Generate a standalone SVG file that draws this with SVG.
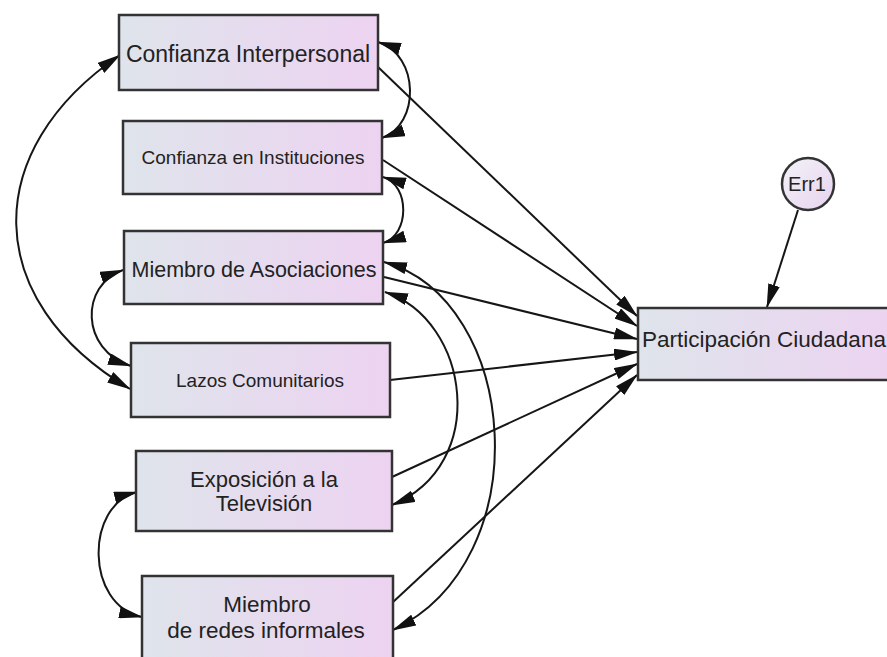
<svg xmlns="http://www.w3.org/2000/svg" width="887" height="657" viewBox="0 0 887 657">
<defs>
<linearGradient id="boxfill" x1="0" y1="0" x2="1" y2="0">
<stop offset="0" stop-color="#dfe4eb"/>
<stop offset="1" stop-color="#edd3f1"/>
</linearGradient>
<linearGradient id="circfill" x1="0" y1="0" x2="1" y2="1">
<stop offset="0" stop-color="#f4f2f8"/>
<stop offset="1" stop-color="#e6d3ee"/>
</linearGradient>
<marker id="ah" markerUnits="userSpaceOnUse" markerWidth="24" markerHeight="12" refX="23" refY="6" orient="auto-start-reverse" viewBox="0 0 24 12">
<path d="M0,0 L24,6 L0,12 z" fill="#111"/>
</marker>
<style>
.box{fill:url(#boxfill);stroke:#333;stroke-width:2.5}
.t{font-family:"Liberation Sans",Arial,sans-serif;fill:#222;text-anchor:middle}
.c{fill:none;stroke:#161616;stroke-width:2}
.one{marker-end:url(#ah)}
.two{marker-start:url(#ah);marker-end:url(#ah)}
</style>
</defs>
<rect width="887" height="657" fill="#ffffff"/>
<g id="connectors">
<path class="c one" d="M378,67 L637,316"/>
<path class="c one" d="M383,160 L637,326"/>
<path class="c one" d="M384,277 L637,339"/>
<path class="c one" d="M390,380 L637,352"/>
<path class="c one" d="M392,477 L637,364"/>
<path class="c one" d="M392,603 L637,375"/>
<path class="c one" d="M798,210 L767,307"/>
<path class="c two" d="M120,55 C-20,150 -20,300 130,389"/>
<path class="c two" d="M123,270 C80,285 80,350 131,366"/>
<path class="c two" d="M378,42 C420,55 420,125 382,138"/>
<path class="c two" d="M383,177 C410,185 410,235 383,243"/>
<path class="c two" d="M385,292 C470,320 490,465 392,505"/>
<path class="c two" d="M384,262 C520,300 540,560 393,630"/>
<path class="c two" d="M137,492 C85,505 85,605 142,617"/>
</g>
<g id="n_confianza_interpersonal">
<rect class="box" x="119" y="15" width="259" height="75"/>
<text class="t" x="248" y="62" font-size="23">Confianza Interpersonal</text>
</g>
<g id="n_confianza_instituciones">
<rect class="box" x="123" y="121" width="259" height="73"/>
<text class="t" x="253" y="164" font-size="19">Confianza en Instituciones</text>
</g>
<g id="n_miembro_asociaciones">
<rect class="box" x="124" y="231" width="259" height="73"/>
<text class="t" x="254" y="277" font-size="21.5">Miembro de Asociaciones</text>
</g>
<g id="n_lazos">
<rect class="box" x="131" y="343" width="259" height="74"/>
<text class="t" x="260" y="387" font-size="19">Lazos Comunitarios</text>
</g>
<g id="n_television">
<rect class="box" x="136" y="451" width="256" height="80"/>
<text class="t" x="264" y="487" font-size="22">Exposición a la</text>
<text class="t" x="264" y="511" font-size="22">Televisión</text>
</g>
<g id="n_redes">
<rect class="box" x="142" y="576" width="251" height="95"/>
<text class="t" x="267" y="612" font-size="22.5">Miembro</text>
<text class="t" x="266" y="638" font-size="22.5">de redes informales</text>
</g>
<g id="n_participacion">
<rect class="box" x="638" y="308" width="262" height="72"/>
<text class="t" x="642" y="347" font-size="22.5" style="text-anchor:start">Participación Ciudadana</text>
</g>
<g id="n_err1">
<circle cx="808" cy="184" r="26" fill="url(#circfill)" stroke="#333" stroke-width="2.5"/>
<text class="t" x="807" y="191" font-size="20">Err1</text>
</g>
</svg>
